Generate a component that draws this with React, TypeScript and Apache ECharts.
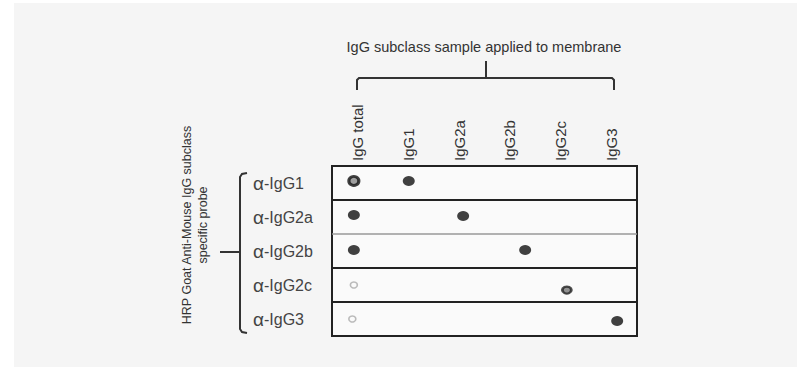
import React, { useEffect, useRef } from "react";
import * as echarts from "echarts";

// Samples applied to the membrane (columns) and probes (rows)
const samples = ["IgG total", "IgG1", "IgG2a", "IgG2b", "IgG2c", "IgG3"];
const probes = ["IgG1", "IgG2a", "IgG2b", "IgG2c", "IgG3"];

// Spots: column position, row position (axis units), signal (0..1)
const spotColumn = [0.43, 1.51, 0.43, 2.58, 0.43, 3.8, 0.43, 4.62, 0.4, 5.61];
const spotRow = [0.44, 0.44, 1.44, 1.47, 2.47, 2.47, 3.5, 3.65, 4.5, 4.56];
const spotSignal = [0.6, 1, 1, 1, 1, 1, 0.15, 0.5, 0.15, 1];

// Row separators (between probes); the 2a/2b one is fainter on the original
const separators = [1, 2, 3, 4];
const separatorStrong = [true, false, true, true];

const FONT = "Liberation Sans, Arial, sans-serif";

export default function App() {
  const ref = useRef<HTMLDivElement>(null);

  useEffect(() => {
    document.body.style.margin = "0";
    if (!ref.current) return;
    const chart = echarts.init(ref.current, undefined, { renderer: "svg" });

    const spotData = spotColumn.map((x, i) => {
      const s = spotSignal[i];
      let itemStyle: any;
      let size: any;
      if (s >= 0.9) {
        itemStyle = { color: "#111", borderWidth: 0 };
        size = [12, 10];
      } else if (s >= 0.55) {
        itemStyle = { color: "#888", borderColor: "#111", borderWidth: 3 };
        size = [10, 9];
      } else if (s >= 0.4) {
        itemStyle = { color: "#777", borderColor: "#222", borderWidth: 2.5 };
        size = [9, 7];
      } else {
        itemStyle = { color: "rgba(0,0,0,0)", borderColor: "#aaa", borderWidth: 1.5 };
        size = [7, 6];
      }
      return { value: [x, spotRow[i]], itemStyle, symbolSize: size };
    });

    const option: any = {
      animation: false,
      backgroundColor: "#ffffff",
      graphic: [
        {
          type: "rect",
          z: -10,
          shape: { x: 14, y: 3, width: 783, height: 364 },
          style: { fill: "#f5f5f5" },
          silent: true,
        },
        {
          type: "text",
          x: 484,
          y: 47,
          style: {
            text: "IgG subclass sample applied to membrane",
            font: `14.5px ${FONT}`,
            fill: "#333",
            textAlign: "center",
            textVerticalAlign: "middle",
          },
        },
        {
          type: "polyline",
          shape: {
            points: [
              [357, 90],
              [357, 80],
              [359, 78],
              [612, 78],
              [614, 80],
              [614, 90],
            ],
          },
          style: { stroke: "#333", lineWidth: 2, fill: null },
        },
        {
          type: "line",
          shape: { x1: 486, y1: 78, x2: 486, y2: 61 },
          style: { stroke: "#333", lineWidth: 2 },
        },
        {
          type: "polyline",
          shape: {
            points: [
              [247, 173],
              [242, 174],
              [240, 177],
              [240, 329],
              [242, 332],
              [247, 333],
            ],
          },
          style: { stroke: "#333", lineWidth: 2, fill: null },
        },
        {
          type: "line",
          shape: { x1: 220, y1: 252, x2: 240, y2: 252 },
          style: { stroke: "#333", lineWidth: 2 },
        },
        {
          type: "text",
          x: 195,
          y: 225,
          rotation: Math.PI / 2,
          style: {
            text: "HRP Goat Anti-Mouse IgG subclass\nspecific probe",
            font: `12.5px ${FONT}`,
            fill: "#333",
            lineHeight: 16,
            textAlign: "center",
            textVerticalAlign: "middle",
          },
        },
      ],
      grid: {
        left: 332,
        right: 163,
        top: 166,
        bottom: 31,
        show: true,
        backgroundColor: "#fafafa",
        borderColor: "#222",
        borderWidth: 2,
      },
      xAxis: [
        {
          type: "value",
          min: 0,
          max: 6,
          show: false,
        },
        {
          type: "category",
          position: "top",
          data: samples,
          axisLine: { show: false },
          axisTick: { show: false },
          splitLine: { show: false },
          axisLabel: {
            rotate: -90,
            margin: 5,
            color: "#333",
            fontSize: 15,
            fontFamily: FONT,
          },
        },
      ],
      yAxis: [
        {
          type: "value",
          min: 0,
          max: 5,
          inverse: true,
          show: false,
        },
        {
          type: "category",
          position: "left",
          inverse: true,
          data: probes,
          axisLine: { show: false },
          axisTick: { show: false },
          splitLine: { show: false },
          axisLabel: {
            align: "left",
            margin: 79,
            color: "#444",
            formatter: (v: string) => `{a|α}{b|-${v}}`,
            rich: {
              a: { fontSize: 19, fontFamily: FONT, color: "#444" },
              b: { fontSize: 16, fontFamily: FONT, color: "#444" },
            },
          },
        },
      ],
      series: [
        {
          type: "scatter",
          xAxisIndex: 0,
          yAxisIndex: 0,
          symbol: "circle",
          data: spotData,
          markLine: {
            silent: true,
            symbol: "none",
            label: { show: false },
            data: separators.map((y, i) => ({
              yAxis: y,
              lineStyle: separatorStrong[i]
                ? { color: "#222", width: 2, type: "solid" }
                : { color: "#999", width: 1.5, type: "solid" },
            })),
          },
        },
      ],
    };

    chart.setOption(option);
    return () => chart.dispose();
  }, []);

  return <div ref={ref} style={{ width: 800, height: 367 }} />;
}
